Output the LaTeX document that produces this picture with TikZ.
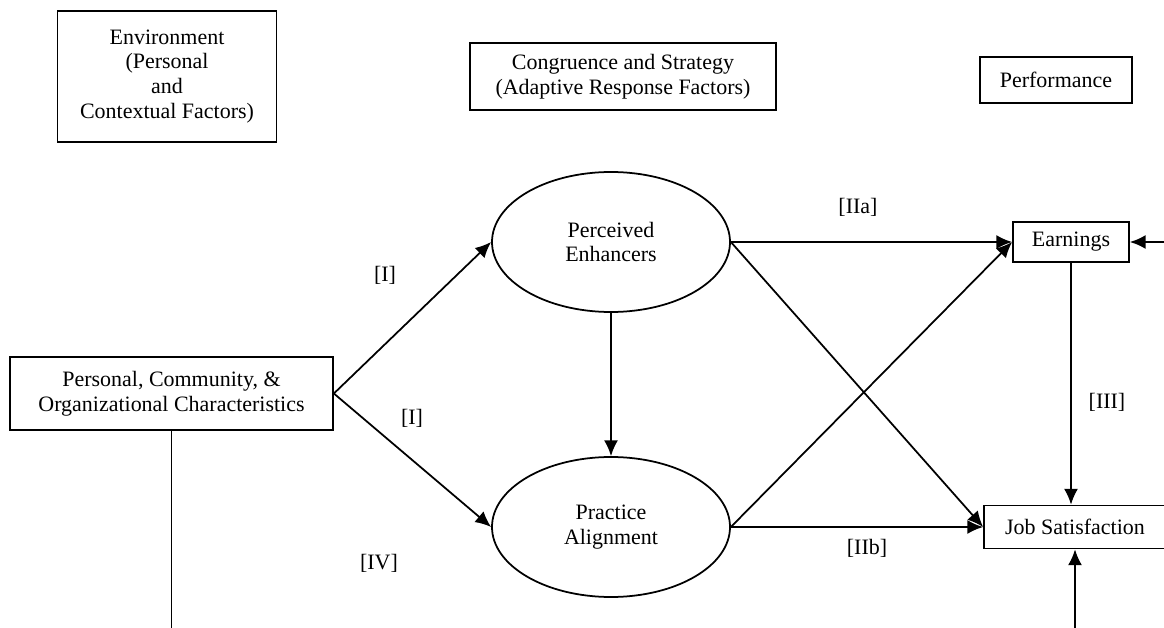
\documentclass[tikz,border=0pt]{standalone}
\usepackage{fontspec}
\setmainfont{Liberation Serif}
\usetikzlibrary{shapes.geometric,arrows.meta,positioning}

\begin{document}
\begin{tikzpicture}[
    txt/.style={font=\fontsize{12.5}{14.2}\selectfont, align=center},
    hdr/.style={txt, draw, line width=1pt, inner sep=0pt},
    var/.style={txt, draw, line width=1pt, inner sep=0pt},
    fac/.style={txt, draw, line width=1pt, ellipse, inner sep=0pt, minimum width=4.76cm, minimum height=2.8cm},
    lbl/.style={txt},
    arr/.style={line width=1pt, -{Latex[length=9pt,width=8pt]}}
]
    \useasboundingbox (0,0) rectangle (23.28,-12.56);

    \node[hdr, minimum width=4.38cm, minimum height=2.62cm] (env) at (3.34,-1.53) {Environment\\(Personal\\and\\Contextual Factors)};
    \node[hdr, minimum width=6.12cm, minimum height=1.34cm] (cong) at (12.46,-1.53) {Congruence and Strategy\\(Adaptive Response Factors)};
    \node[hdr, minimum width=3.04cm, minimum height=0.92cm] (perf) at (21.12,-1.6) {Performance};

    \node[var, minimum width=6.46cm, minimum height=1.46cm] (pcoc) at (3.43,-7.87) {Personal, Community, \&\\Organizational Characteristics};
    \node[fac] (pe) at (12.22,-4.84) {Perceived\\Enhancers};
    \node[fac] (pa) at (12.22,-10.54) {Practice\\Alignment};
    \node[var, minimum width=2.32cm, minimum height=0.8cm] (earn) at (21.42,-4.84) {Earnings};
    \node[var, minimum width=3.64cm, minimum height=0.86cm] (jobsat) at (21.5,-10.54) {Job Satisfaction};

    \node[lbl] (lI1) at (7.7,-5.5) {[I]};
    \node[lbl] (lI2) at (8.24,-8.36) {[I]};
    \node[lbl] (lIV) at (7.58,-11.26) {[IV]};
    \node[lbl] (lIIa) at (17.16,-4.14) {[IIa]};
    \node[lbl] (lIIb) at (17.34,-10.96) {[IIb]};
    \node[lbl] (lIII) at (22.14,-8.04) {[III]};

    \coordinate (edgeR) at (23.4,-4.84);
    \coordinate (edgeB) at (21.5,-12.7);
    \coordinate (edgeL) at (3.43,-12.7);

    \draw[arr] (pcoc.east) -- (pe.west);
    \draw[arr] (pcoc.east) -- (pa.west);
    \draw[line width=1pt] (pcoc.south) -- (edgeL);
    \draw[arr] (pe.south) -- (pa.north);
    \draw[arr] (pe.east) -- (earn.west);
    \draw[arr] (pe.east) -- (jobsat.west);
    \draw[arr] (pa.east) -- (earn.west);
    \draw[arr] (pa.east) -- (jobsat.west);
    \draw[arr] (earn.south) -- (earn.south |- jobsat.north);
    \draw[arr] (edgeR) -- (earn.east);
    \draw[arr] (edgeB) -- (jobsat.south);
\end{tikzpicture}
\end{document}
